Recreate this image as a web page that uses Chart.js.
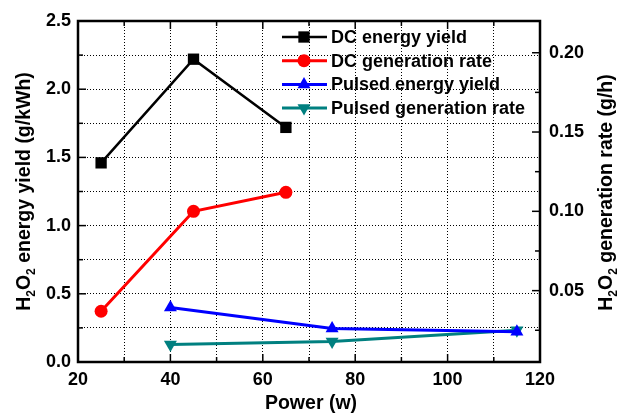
<!DOCTYPE html>
<html>
<head>
<meta charset="utf-8">
<script src="https://cdn.jsdelivr.net/npm/chart.js@4/dist/chart.umd.min.js"></script>
<style>
  html, body { margin: 0; padding: 0; background: #fff; }
  #wrap { width: 618px; height: 415px; }
</style>
</head>
<body>
<div id="wrap"><canvas id="chart" width="618" height="415"></canvas></div>
<script>
// power (w) for each run type
const dcPower = [25, 45, 65];
const pulsedPower = [40, 75, 115];

// H2O2 energy yield (g/kWh) -> left axis
const dcEnergyYield = [1.46, 2.22, 1.72];
const pulsedEnergyYield = [0.40, 0.245, 0.222];

// H2O2 generation rate (g/h) -> right axis
const dcGenerationRate = [0.037, 0.100, 0.112];
const pulsedGenerationRate = [0.016, 0.018, 0.025];

const seriesLabels = ['DC energy yield', 'DC generation rate', 'Pulsed energy yield', 'Pulsed generation rate'];
const xTitle = 'Power (w)';
const leftTitle = [['H', false], ['2', true], ['O', false], ['2', true], [' energy yield (g/kWh)', false]];
const rightTitle = [['H', false], ['2', true], ['O', false], ['2', true], [' generation rate (g/h)', false]];

const FONT = "'Liberation Sans', Arial, sans-serif";

function toPoints(xs, ys) {
    return xs.map((x, i) => ({ x: x, y: ys[i] }));
}

function isMultiple(v, step) {
    return Math.abs(v / step - Math.round(v / step)) < 1e-6;
}

function drawMarker(ctx, style, rotation, x, y, r, color) {
    ctx.fillStyle = color;
    ctx.beginPath();
    if (style === 'rect') {
        const s = r * Math.SQRT2;
        ctx.rect(x - s / 2, y - s / 2, s, s);
    } else if (style === 'circle') {
        ctx.arc(x, y, r, 0, Math.PI * 2);
    } else {
        const rot = (rotation || 0) * Math.PI / 180;
        for (let k = 0; k < 3; k++) {
            const ang = rot + k * 2 * Math.PI / 3;
            const px = x + Math.sin(ang) * r;
            const py = y - Math.cos(ang) * r;
            if (k === 0) ctx.moveTo(px, py); else ctx.lineTo(px, py);
        }
        ctx.closePath();
    }
    ctx.fill();
}

function drawRotatedTitle(ctx, parts, cx, cy) {
    ctx.save();
    ctx.translate(cx, cy);
    ctx.rotate(-Math.PI / 2);
    ctx.fillStyle = '#000';
    ctx.textBaseline = 'alphabetic';
    let total = 0;
    parts.forEach(p => {
        ctx.font = p[1] ? 'bold 12px ' + FONT : 'bold 19.5px ' + FONT;
        total += ctx.measureText(p[0]).width;
    });
    let x = -total / 2;
    parts.forEach(p => {
        ctx.font = p[1] ? 'bold 12px ' + FONT : 'bold 19.5px ' + FONT;
        ctx.fillText(p[0], x, p[1] ? 12 : 7);
        x += ctx.measureText(p[0]).width;
    });
    ctx.restore();
}

const framePlugin = {
    id: 'frame',
    afterDatasetsDraw(chart) {
        const { ctx, chartArea: a, scales } = chart;
        ctx.save();
        ctx.strokeStyle = '#000';
        ctx.lineWidth = 1.5;
        const seg = (x1, y1, x2, y2) => { ctx.beginPath(); ctx.moveTo(x1, y1); ctx.lineTo(x2, y2); ctx.stroke(); };

        scales.x.ticks.forEach(t => {
            const px = scales.x.getPixelForValue(t.value);
            const len = isMultiple(t.value, 20) ? 8 : 5;
            seg(px, a.bottom, px, a.bottom - len);
            seg(px, a.top, px, a.top + len);
        });
        scales.y.ticks.forEach(t => {
            const py = scales.y.getPixelForValue(t.value);
            const len = isMultiple(t.value, 0.5) ? 8 : 5;
            seg(a.left, py, a.left + len, py);
        });
        scales.y1.ticks.forEach(t => {
            const py = scales.y1.getPixelForValue(t.value);
            const len = isMultiple(t.value, 0.05) ? 8 : 5;
            seg(a.right, py, a.right - len, py);
        });

        ctx.lineWidth = 2.5;
        ctx.strokeRect(a.left, a.top, a.right - a.left, a.bottom - a.top);
        ctx.restore();
    },
    afterDraw(chart) {
        const { ctx, chartArea: a } = chart;
        ctx.save();

        // axis titles
        drawRotatedTitle(ctx, leftTitle, 23, (a.top + a.bottom) / 2);
        drawRotatedTitle(ctx, rightTitle, 605, (a.top + a.bottom) / 2 + 1);
        ctx.fillStyle = '#000';
        ctx.font = 'bold 19.5px ' + FONT;
        ctx.textAlign = 'center';
        ctx.textBaseline = 'middle';
        ctx.fillText(xTitle, (a.left + a.right) / 2 + 2, 404);

        // legend inside the plot, upper right
        ctx.textAlign = 'left';
        ctx.font = 'bold 18px ' + FONT;
        chart.data.datasets.forEach((d, i) => {
            const y = a.top + 16 + i * 23.7;
            ctx.strokeStyle = d.borderColor;
            ctx.lineWidth = d.borderWidth;
            ctx.beginPath();
            ctx.moveTo(a.left + 204, y);
            ctx.lineTo(a.left + 249, y);
            ctx.stroke();
            drawMarker(ctx, d.pointStyle, d.pointRotation, a.left + 226, y, d.pointRadius, d.backgroundColor);
            ctx.fillStyle = '#000';
            ctx.fillText(d.label, a.left + 253, y + 1);
        });
        ctx.restore();
    }
};

const gridStyle = { color: '#000', lineWidth: 1, drawTicks: false, borderDash: [1, 2] };
const tickFont = { family: FONT, size: 18, weight: 'bold' };

new Chart(document.getElementById('chart').getContext('2d'), {
    type: 'line',
    data: {
        datasets: [
            {
                label: seriesLabels[0],
                data: toPoints(dcPower, dcEnergyYield),
                yAxisID: 'y',
                borderColor: '#000000',
                backgroundColor: '#000000',
                borderWidth: 2.5,
                pointStyle: 'rect',
                pointRadius: 8,
                pointBorderWidth: 0
            },
            {
                label: seriesLabels[1],
                data: toPoints(dcPower, dcGenerationRate),
                yAxisID: 'y1',
                borderColor: '#ff0000',
                backgroundColor: '#ff0000',
                borderWidth: 3,
                pointStyle: 'circle',
                pointRadius: 6.5,
                pointBorderWidth: 0
            },
            {
                label: seriesLabels[2],
                data: toPoints(pulsedPower, pulsedEnergyYield),
                yAxisID: 'y',
                borderColor: '#0000ff',
                backgroundColor: '#0000ff',
                borderWidth: 3,
                pointStyle: 'triangle',
                pointRadius: 7.5,
                pointBorderWidth: 0
            },
            {
                label: seriesLabels[3],
                data: toPoints(pulsedPower, pulsedGenerationRate),
                yAxisID: 'y1',
                borderColor: '#008080',
                backgroundColor: '#008080',
                borderWidth: 3,
                pointStyle: 'triangle',
                pointRotation: 180,
                pointRadius: 7.5,
                pointBorderWidth: 0
            }
        ]
    },
    options: {
        responsive: false,
        animation: false,
        layout: { padding: { top: 21, left: 0, right: 0, bottom: 0 } },
        plugins: {
            legend: { display: false },
            tooltip: { enabled: false }
        },
        elements: { line: { tension: 0 } },
        scales: {
            x: {
                type: 'linear',
                min: 20,
                max: 120,
                ticks: {
                    stepSize: 10,
                    autoSkip: false,
                    maxRotation: 0,
                    padding: 7,
                    color: '#000',
                    font: tickFont,
                    callback: v => isMultiple(v, 20) ? v : ''
                },
                grid: gridStyle,
                border: { display: false, dash: [1, 2] },
                afterFit: s => { s.height = 53; }
            },
            y: {
                position: 'left',
                min: 0,
                max: 2.5,
                ticks: {
                    stepSize: 0.25,
                    autoSkip: false,
                    padding: 7,
                    color: '#000',
                    font: tickFont,
                    callback: v => isMultiple(v, 0.5) ? v.toFixed(1) : ''
                },
                grid: gridStyle,
                border: { display: false, dash: [1, 2] },
                afterFit: s => { s.width = 78; }
            },
            y1: {
                position: 'right',
                min: 0.005,
                max: 0.22,
                ticks: {
                    stepSize: 0.025,
                    includeBounds: false,
                    autoSkip: false,
                    padding: 9,
                    color: '#000',
                    font: tickFont,
                    callback: v => isMultiple(v, 0.05) ? v.toFixed(2) : ''
                },
                grid: { display: false, drawTicks: false },
                border: { display: false },
                afterFit: s => { s.width = 78; }
            }
        }
    },
    plugins: [framePlugin]
});
</script>
</body>
</html>
